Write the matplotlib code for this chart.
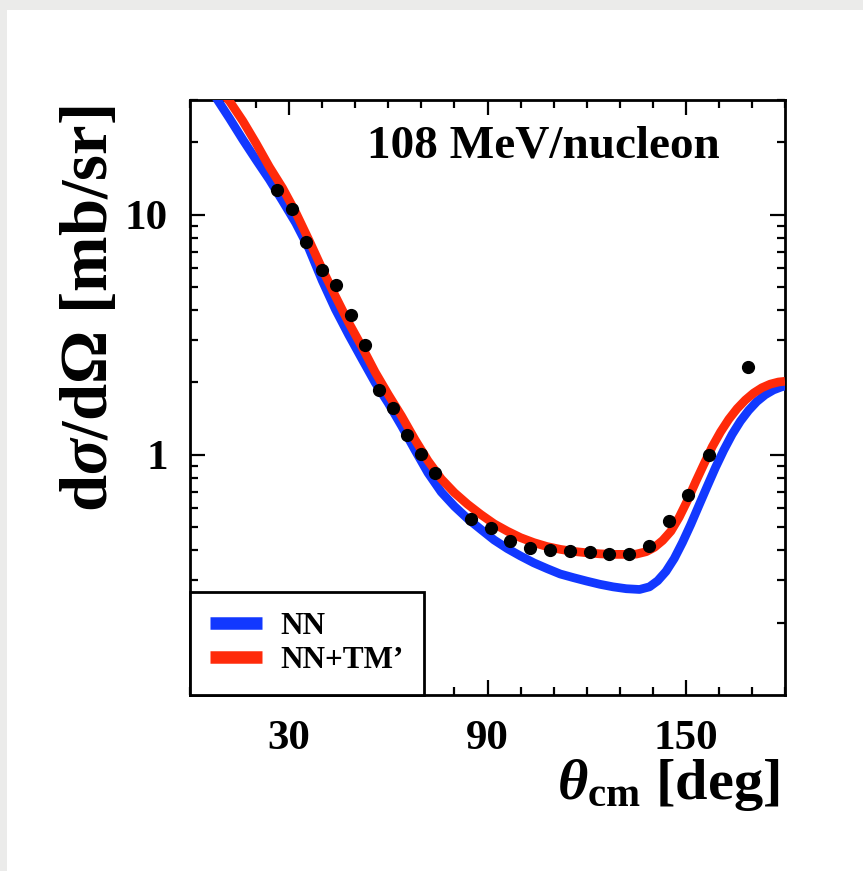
"""Differential cross section vs c.m. angle, NN vs NN+TM' at 108 MeV/nucleon"""

import numpy as np
import matplotlib
matplotlib.use('Agg')
import matplotlib.pyplot as plt
from matplotlib.lines import Line2D
from matplotlib.patches import Rectangle
from matplotlib.ticker import MultipleLocator, LogLocator, NullFormatter, FixedLocator

## Data
# NN calculation (blue)
theta_nn = [0, 4, 8, 12, 16, 20, 24, 28, 32, 36, 40, 44, 48, 52, 56, 60, 64, 68,
            72, 76, 80, 84, 88, 92, 96, 100, 104, 108, 112, 116, 120, 124, 128,
            132, 136, 139, 141.5, 144, 146.5, 149, 151.5, 154, 156.5, 159, 161.5,
            164, 166.5, 169, 171.5, 174, 176.5, 179, 180]
xs_nn = [42.7, 36.3, 30.5, 25.1, 20.5, 16.9, 14.0, 11.4, 9.23, 7.21, 5.31, 4.03,
         3.16, 2.51, 2.00, 1.64, 1.32, 1.05, 0.841, 0.700, 0.610, 0.542, 0.489,
         0.442, 0.407, 0.379, 0.355, 0.336, 0.319, 0.308, 0.298, 0.289, 0.282,
         0.277, 0.275, 0.282, 0.299, 0.327, 0.370, 0.432, 0.513, 0.617, 0.741,
         0.887, 1.047, 1.216, 1.380, 1.531, 1.667, 1.778, 1.862, 1.919, 1.932]

# NN+TM' calculation (red)
theta_tm = [0, 4, 8, 12, 16, 20, 24, 28, 32, 36, 40, 44, 48, 52, 56, 60, 64, 68,
            72, 76, 80, 84, 88, 92, 96, 100, 104, 108, 112, 116, 120, 124, 128,
            132, 135, 138, 140.5, 143, 145.5, 148, 150.5, 153, 155.5, 158, 160.5,
            163, 165.5, 168, 170.5, 173, 175.5, 178, 180]
xs_tm = [45.7, 39.8, 34.3, 29.6, 24.5, 19.8, 15.8, 12.9, 10.2, 7.82, 5.93, 4.57,
         3.55, 2.82, 2.21, 1.78, 1.45, 1.16, 0.944, 0.794, 0.695, 0.622, 0.564,
         0.516, 0.481, 0.452, 0.431, 0.415, 0.404, 0.396, 0.391, 0.387, 0.385,
         0.385, 0.386, 0.395, 0.412, 0.440, 0.481, 0.550, 0.646, 0.773, 0.916,
         1.081, 1.245, 1.406, 1.556, 1.690, 1.807, 1.901, 1.968, 2.009, 2.023]

# experimental points
theta_exp = [26.3, 30.8, 35.1, 40.0, 44.2, 48.7, 53.0, 57.2, 61.5, 65.5, 69.8,
             74.0, 85.1, 91.1, 96.9, 102.9, 108.9, 114.9, 120.9, 126.9, 132.8,
             138.8, 144.8, 150.8, 156.9, 168.9]
xs_exp = [12.6, 10.6, 7.69, 5.88, 5.07, 3.81, 2.86, 1.86, 1.57, 1.21, 1.01,
          0.837, 0.541, 0.494, 0.438, 0.408, 0.400, 0.397, 0.394, 0.385, 0.385,
          0.417, 0.528, 0.678, 1.00, 2.32]

x_major = [30, 90, 150]
y_major = [1, 10]
y_major_labels = ['1', '10']

blue = '#1238ff'
red = '#ff2a0a'

## Fonts
plt.rcParams['font.family'] = 'Liberation Serif'
plt.rcParams['font.weight'] = 'bold'
plt.rcParams['mathtext.fontset'] = 'custom'
plt.rcParams['mathtext.rm'] = 'Liberation Serif'
plt.rcParams['mathtext.it'] = 'Liberation Serif:italic'
plt.rcParams['mathtext.bf'] = 'Liberation Serif:bold'

fig = plt.figure(figsize=(8.63, 8.71), dpi=100)
fig.patch.set_facecolor('#ebebea')
# white page inside the grey frame
fig.patches.append(Rectangle((7 / 863, 0), 1, (871 - 10) / 871, transform=fig.transFigure,
                             facecolor='white', edgecolor='none', zorder=-10))

ax = fig.add_axes([190 / 863, 176 / 871, 595 / 863, 595 / 871])
ax.set_zorder(1)

ax.plot(theta_nn, xs_nn, color=blue, lw=6.3, solid_capstyle='butt', zorder=3)
ax.plot(theta_tm, xs_tm, color=red, lw=6.3, solid_capstyle='butt', zorder=3.1)
ax.plot(theta_exp, xs_exp, 'o', color='black', ms=8.5, zorder=4)

ax.set_yscale('log')
ax.set_xlim(0, 180)
ax.set_ylim(0.1, 30)

## ticks
ax.xaxis.set_major_locator(FixedLocator(x_major))
ax.xaxis.set_minor_locator(MultipleLocator(10))
ax.yaxis.set_major_locator(FixedLocator(y_major))
ax.set_yticklabels(y_major_labels)
ax.yaxis.set_minor_locator(LogLocator(base=10, subs=np.arange(2, 10)))
ax.yaxis.set_minor_formatter(NullFormatter())
ax.tick_params(which='both', direction='in', top=True, right=True, width=1.6,
               labelsize=31, color='black')
ax.tick_params(which='major', length=11)
ax.tick_params(which='minor', length=6)
ax.tick_params(axis='x', which='major', pad=18)
ax.tick_params(axis='y', which='major', pad=16)
for s in ax.spines.values():
    s.set_linewidth(2.0)

## labels
ax.set_xlabel(r'$\theta_{\mathbf{cm}}$ [deg]', fontsize=42, fontweight='bold', loc='right')
ax.xaxis.set_label_coords(0.991, -0.105)
fig.text(91 / 863, (871 - 309) / 871, r'd$\sigma$/d$\Omega$ [mb/sr]', rotation=90,
         ha='center', va='center', fontsize=48, fontweight='bold')

ax.text(0.891, 0.904, '108 MeV/nucleon', transform=ax.transAxes, ha='right',
        va='baseline', fontsize=34, fontweight='bold')

## legend
handles = [Line2D([], [], color=blue, lw=9, solid_capstyle='butt'),
           Line2D([], [], color=red, lw=9, solid_capstyle='butt')]
leg = ax.legend(handles, ['NN', "NN+TM\u2019"], loc='lower left', bbox_to_anchor=(0, 0),
                borderaxespad=0, fancybox=False, framealpha=1, edgecolor='black',
                prop={'size': 22.5, 'weight': 'bold'}, handlelength=1.66,
                handletextpad=0.58, borderpad=0.65, labelspacing=0.15)
leg.get_frame().set_linewidth(2.0)
leg.set_zorder(10)

plt.savefig('out.png', dpi=100, facecolor=fig.get_facecolor())
